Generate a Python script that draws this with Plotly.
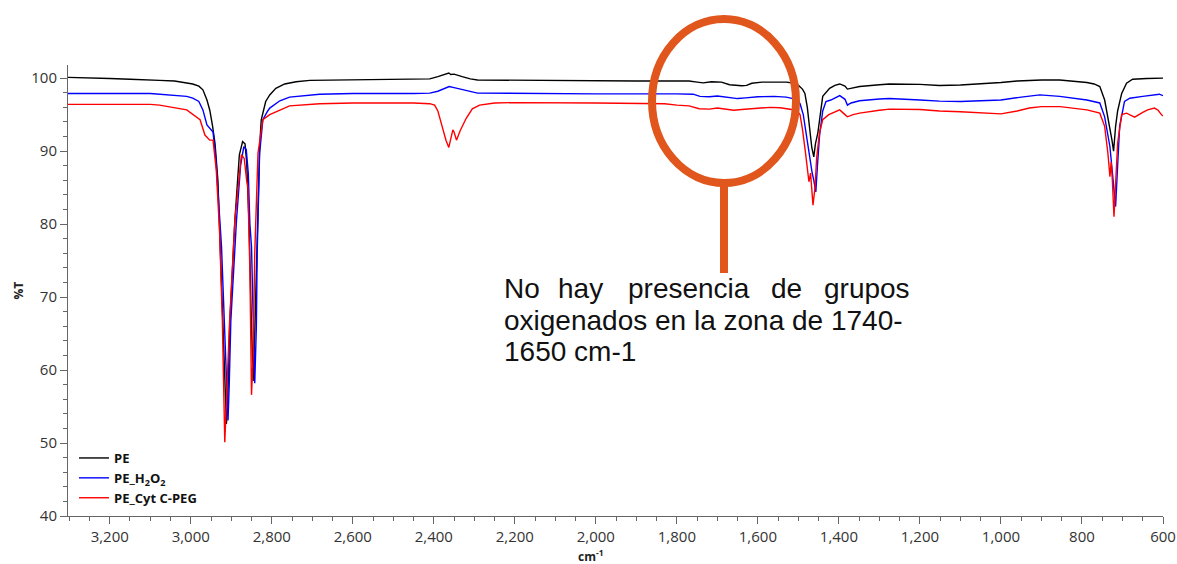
import plotly.graph_objects as go

# FTIR transmittance spectra (wavenumber in cm-1, %T)
pe_wn = [3303, 3250, 3200, 3150, 3100, 3077, 3040, 3010, 2995, 2980, 2970, 2960, 2953, 2946,
         2940, 2933, 2926, 2920, 2915, 2912, 2909, 2904, 2891, 2880, 2872, 2866, 2862, 2856,
         2851, 2846, 2842, 2836, 2830, 2826, 2815, 2805, 2790, 2768, 2740, 2706, 2600, 2500,
         2430, 2410, 2390, 2370, 2363, 2358, 2350, 2330, 2310, 2292, 2200, 2100, 2000, 1900,
         1800, 1770, 1750, 1735, 1715, 1690, 1670, 1655, 1640, 1628, 1615, 1590, 1560, 1530,
         1510, 1500, 1490, 1484, 1478, 1472, 1467, 1462, 1458, 1452, 1445, 1440, 1423, 1410,
         1398, 1385, 1379, 1365, 1349, 1300, 1275, 1200, 1152, 1100, 1050, 1000, 960, 900,
         855, 820, 788, 770, 756, 744, 736, 731, 726, 722, 717, 712, 702, 690, 675, 640,
         609, 600]
pe_t = [100.1, 100.05, 99.95, 99.85, 99.8, 99.7, 99.6, 99.35, 99.2, 98.9, 98.4, 97.0, 95.6, 93.4,
        91.0, 86.0, 75.0, 63.0, 55.0, 52.6, 55.0, 66.0, 80.6, 89.5, 91.3, 91.0, 88.5, 80.0,
        68.0, 58.5, 65.0, 80.0, 90.5, 94.3, 96.8, 97.7, 98.6, 99.2, 99.5, 99.7, 99.75, 99.8,
        99.8, 99.9, 100.2, 100.5, 100.7, 100.5, 100.55, 100.2, 99.9, 99.75, 99.7, 99.7, 99.65, 99.6,
        99.6, 99.6, 99.45, 99.35, 99.5, 99.45, 99.1, 99.0, 98.95, 99.0, 99.3, 99.45, 99.5, 99.45,
        99.3, 99.0, 98.5, 97.9, 96.0, 93.4, 90.5, 89.2, 91.0, 92.5, 95.5, 97.5, 98.6, 99.0,
        99.2, 98.9, 98.5, 98.7, 98.85, 99.1, 99.2, 99.15, 99.0, 99.05, 99.2, 99.4, 99.6, 99.75,
        99.75, 99.6, 99.4, 99.2, 98.85, 97.0, 94.5, 93.4, 91.5, 90.0, 93.4, 95.5, 97.9, 99.3, 99.85, 99.95,
        100.0, 100.0]

h2o2_wn = [3303, 3200, 3100, 3010, 2995, 2980, 2970, 2960, 2950, 2945, 2938, 2930, 2924, 2916,
           2908, 2905, 2901, 2887, 2877, 2869, 2863, 2858, 2854, 2850, 2846, 2842, 2838, 2836,
           2830, 2822, 2810, 2805, 2780, 2756, 2682, 2600, 2450, 2410, 2390, 2370, 2362, 2350,
           2330, 2300, 2292, 2200, 2000, 1800, 1760, 1743, 1720, 1700, 1670, 1650, 1630, 1600,
           1560, 1530, 1505, 1496, 1488, 1480, 1472, 1466, 1462, 1457, 1453, 1448, 1440, 1432,
           1420, 1398, 1385, 1379, 1370, 1349, 1300, 1275, 1200, 1152, 1100, 1000, 950, 904,
           855, 788, 756, 744, 731, 725, 721, 717, 712, 707, 695, 682, 650, 609, 600]
h2o2_t = [97.9, 97.95, 97.9, 97.5, 97.25, 96.8, 95.65, 93.6, 93.0, 92.6, 89.0, 82.0, 76.9, 65.0,
          53.1, 58.0, 66.8, 80.6, 88.0, 90.6, 90.2, 87.0, 80.0, 76.9, 65.0, 58.2, 66.0, 76.0,
          89.7, 94.3, 95.5, 95.9, 96.9, 97.4, 97.8, 97.9, 97.9, 97.95, 98.2, 98.6, 98.85, 98.7,
          98.4, 98.05, 97.95, 97.9, 97.85, 97.85, 97.8, 97.5, 97.45, 97.55, 97.35, 97.2, 97.3, 97.45,
          97.5, 97.4, 97.1, 96.5, 95.0, 92.0, 89.0, 87.0, 86.0, 84.4, 88.0, 92.0, 95.5, 96.8,
          97.0, 97.6, 97.1, 96.3, 96.6, 96.9, 97.15, 97.2, 97.0, 96.85, 96.8, 97.0, 97.4, 97.7,
          97.5, 97.0, 96.6, 94.7, 90.6, 87.4, 85.0, 82.4, 88.0, 93.4, 96.8, 97.25, 97.5, 97.8, 97.6]

cyt_wn = [3303, 3200, 3100, 3077, 3010, 2977, 2965, 2953, 2945, 2937, 2929, 2922, 2916, 2904,
          2891, 2875, 2868, 2862, 2859, 2854, 2850, 2846, 2842, 2834, 2822, 2805, 2756, 2682,
          2600, 2450, 2410, 2398, 2390, 2380, 2370, 2363, 2358, 2353, 2350, 2344, 2335, 2320,
          2305, 2287, 2250, 2200, 2000, 1860, 1830, 1800, 1770, 1745, 1720, 1700, 1680, 1660,
          1640, 1600, 1570, 1545, 1525, 1505, 1496, 1490, 1483, 1476, 1474, 1470, 1464, 1459,
          1455, 1448, 1440, 1425, 1398, 1385, 1379, 1365, 1349, 1300, 1275, 1200, 1152, 1100,
          1050, 1000, 960, 930, 900, 854, 788, 756, 744, 736, 731, 728, 725, 721, 712, 702,
          690, 670, 650, 638, 621, 612, 604, 600]
cyt_t = [96.4, 96.45, 96.4, 96.3, 95.65, 94.3, 92.2, 91.5, 91.5, 87.4, 79.2, 66.8, 50.1, 66.8,
         80.6, 89.5, 89.0, 86.0, 85.1, 73.7, 56.6, 62.0, 76.0, 89.7, 94.3, 95.0, 96.2, 96.5,
         96.6, 96.6, 96.5, 96.3, 95.5, 93.5, 91.5, 90.5, 91.8, 92.9, 92.6, 91.5, 92.8, 94.5,
         95.8, 96.3, 96.6, 96.65, 96.6, 96.55, 96.5, 96.3, 96.2, 95.8, 95.75, 95.9, 95.7, 95.6,
         95.7, 95.9, 96.0, 95.95, 95.8, 95.6, 95.0, 93.0, 90.0, 86.5, 85.8, 87.0, 82.6, 85.0,
         89.0, 92.5, 94.3, 95.0, 95.65, 95.0, 94.7, 95.0, 95.2, 95.6, 95.75, 95.7, 95.5, 95.4,
         95.3, 95.1, 95.5, 95.9, 96.1, 96.1, 95.65, 95.2, 93.4, 89.7, 86.5, 88.5, 86.0, 81.0, 91.1, 95.0,
         95.2, 94.65, 95.3, 95.65, 95.9, 95.6, 95.0, 94.8]

x_ticks = list(range(600, 3201, 200))
y_ticks = [40, 50, 60, 70, 80, 90, 100]

note_words = ["No", "hay", "presencia", "de", "grupos"]
note_lines = ["oxigenados en la zona de 1740-", "1650 cm-1"]

CALLOUT = "#e0561c"
TICK_FONT = dict(family="Open Sans", size=15, color="#333333")

# plot-area pixel frame used to place the callout and notes
L, R, T, B = 68, 1163, 65, 516
W, H = R - L, B - T


def px(x):
    return (x - L) / W


def py(y):
    return (B - y) / H


fig = go.Figure()
for name, wn, t, col in [
    ("PE", pe_wn, pe_t, "#000000"),
    ("PE_H<sub>2</sub>O<sub>2</sub>", h2o2_wn, h2o2_t, "#0000ff"),
    ("PE_Cyt C-PEG", cyt_wn, cyt_t, "#ff0000"),
]:
    fig.add_trace(go.Scatter(x=wn, y=t, mode="lines", name="<b>" + name + "</b>",
                             line=dict(color=col, width=1.4)))

axis_common = dict(showgrid=False, zeroline=False, showline=True, linecolor="#666666",
                   linewidth=1, ticks="outside", ticklen=7, tickcolor="#666666",
                   tickfont=TICK_FONT, automargin=False)
fig.update_xaxes(range=[3303, 600], tickvals=x_ticks, tickformat=",d",
                 minor=dict(dtick=50, tick0=600, ticks="outside", ticklen=4, tickcolor="#666666"),
                 **axis_common)
fig.update_yaxes(range=[40, 101.8], tickvals=y_ticks,
                 minor=dict(dtick=2, tick0=40, ticks="outside", ticklen=4, tickcolor="#666666"),
                 **axis_common)

# axis titles
fig.add_annotation(text="<b>%T</b>", xref="paper", yref="paper", x=px(18), y=0.5,
                   xanchor="center", yanchor="middle", textangle=-90, showarrow=False,
                   font=dict(family="Open Sans", size=12, color="#222222"))
fig.add_annotation(text="<b>cm<sup>-1</sup></b>", xref="paper", yref="paper", x=px(590),
                   y=py(556), xanchor="center", yanchor="middle", showarrow=False,
                   font=dict(family="Open Sans", size=12, color="#222222"))

# callout: ellipse around the 1740-1650 cm-1 zone with a stem to the note
fig.add_shape(type="circle", xref="paper", yref="paper", x0=px(652), x1=px(796),
              y0=py(183), y1=py(19), line=dict(color=CALLOUT, width=8))
fig.add_shape(type="line", xref="paper", yref="paper", x0=px(724), x1=px(724),
              y0=py(186), y1=py(273), line=dict(color=CALLOUT, width=8))

note_font = dict(family="Liberation Sans", size=28, color="#111111")
word_x = [503, 557, 627, 770, 823]
for w, wx in zip(note_words, word_x):
    fig.add_annotation(text=w, xref="paper", yref="paper", x=px(wx), y=py(288),
                       xanchor="left", yanchor="middle", showarrow=False,
                       font=note_font, borderpad=0)
for i, line in enumerate(note_lines):
    fig.add_annotation(text=line, xref="paper", yref="paper", x=px(503),
                       y=py(320 + 31.5 * i), xanchor="left", yanchor="middle",
                       showarrow=False, font=note_font, borderpad=0)

fig.update_layout(
    width=1177, height=564,
    margin=dict(l=L, r=1177 - R, t=T, b=564 - B),
    plot_bgcolor="white", paper_bgcolor="white",
    legend=dict(x=px(74), y=py(513), xanchor="left", yanchor="bottom",
                bgcolor="rgba(0,0,0,0)",
                font=dict(family="Open Sans", size=13, color="#111111"),
                itemwidth=30),
    showlegend=True,
)

fig.write_html("out.html")
